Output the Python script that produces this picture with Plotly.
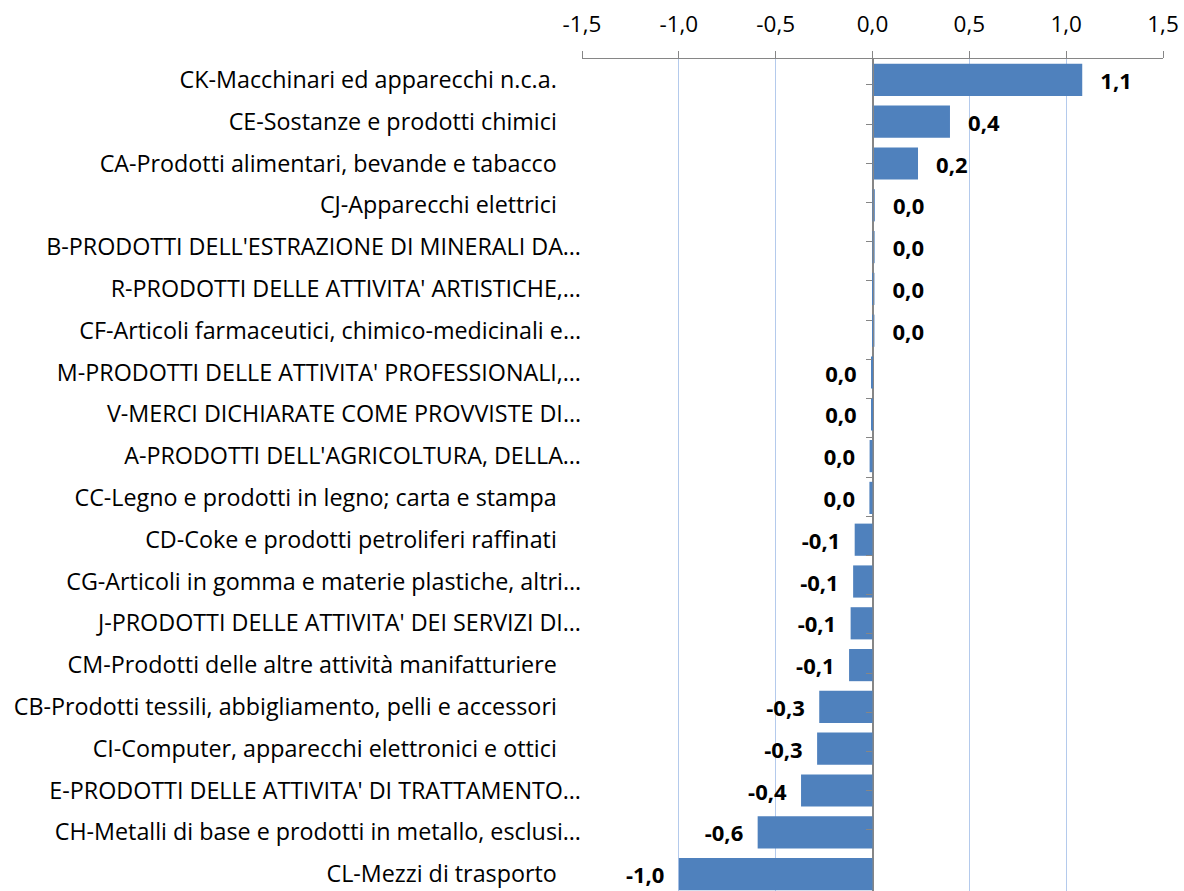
import plotly.graph_objects as go

categories = [
    "CK-Macchinari ed apparecchi n.c.a.",
    "CE-Sostanze e prodotti chimici",
    "CA-Prodotti alimentari, bevande e tabacco",
    "CJ-Apparecchi elettrici",
    "B-PRODOTTI DELL'ESTRAZIONE DI MINERALI DA…",
    "R-PRODOTTI DELLE ATTIVITA' ARTISTICHE,…",
    "CF-Articoli farmaceutici, chimico-medicinali e…",
    "M-PRODOTTI DELLE ATTIVITA' PROFESSIONALI,…",
    "V-MERCI DICHIARATE COME PROVVISTE DI…",
    "A-PRODOTTI DELL'AGRICOLTURA, DELLA…",
    "CC-Legno e prodotti in legno; carta e stampa",
    "CD-Coke e prodotti petroliferi raffinati",
    "CG-Articoli in gomma e materie plastiche, altri…",
    "J-PRODOTTI DELLE ATTIVITA' DEI SERVIZI DI…",
    "CM-Prodotti delle altre attività manifatturiere",
    "CB-Prodotti tessili, abbigliamento, pelli e accessori",
    "CI-Computer, apparecchi elettronici e ottici",
    "E-PRODOTTI DELLE ATTIVITA' DI TRATTAMENTO…",
    "CH-Metalli di base e prodotti in metallo, esclusi…",
    "CL-Mezzi di trasporto",
]
values = [1.083, 0.40, 0.235, 0.012, 0.011, 0.010, 0.010, -0.003, -0.003, -0.015,
          -0.016, -0.092, -0.100, -0.113, -0.121, -0.275, -0.286, -0.369, -0.593, -1.0]
x_tickvals = [-1.5, -1.0, -0.5, 0.0, 0.5, 1.0, 1.5]

FONT = "Open Sans"
BAR_COLOR = "#4F81BD"
GRID = "#B4CAEC"
AXIS = "#868686"


def fmt(v):
    s = f"{v:.1f}"
    if s == "-0.0":
        s = "0.0"
    return s.replace(".", ",")


texts = []
for v in values:
    if v >= 0:
        texts.append("\u00a0\u00a0\u2009<b>" + fmt(v) + "</b>")
    else:
        texts.append("<b>" + fmt(v) + "</b>\u00a0\u00a0")

ticktext = [c if c.endswith("…") else c + "\u00a0" * 4 for c in categories]
x_ticktext = [fmt(v) for v in x_tickvals]

fig = go.Figure()
fig.add_trace(go.Bar(
    x=values, y=categories, orientation="h",
    marker=dict(color=BAR_COLOR, line=dict(width=0)),
    text=texts, textposition="outside", cliponaxis=False,
    textfont=dict(family=FONT, size=22, color="#000000"),
    hoverinfo="skip", showlegend=False,
))
fig.add_trace(go.Scatter(
    x=values, y=categories, yaxis="y2", mode="markers",
    marker=dict(opacity=0), hoverinfo="skip", showlegend=False,
))

fig.update_layout(
    width=1184, height=895,
    margin=dict(l=582, r=21, t=59, b=0, autoexpand=False),
    paper_bgcolor="white", plot_bgcolor="white",
    bargap=0.23,
    font=dict(family=FONT, size=22, color="#000000"),
    xaxis=dict(
        side="top", range=[-1.5, 1.5], tickvals=x_tickvals, ticktext=x_ticktext,
        showgrid=True, gridcolor=GRID, gridwidth=1.3,
        zeroline=True, zerolinecolor=AXIS, zerolinewidth=1.3,
        showline=True, linecolor=AXIS, linewidth=1.3,
        ticks="outside", ticklen=7, tickcolor=AXIS, tickwidth=1.3,
        ticklabelstandoff=10,
        tickfont=dict(family=FONT, size=22.5, color="#000000"),
        fixedrange=True,
    ),
    yaxis=dict(
        type="category", categoryorder="array", categoryarray=categories,
        autorange="reversed", tickvals=categories, ticktext=ticktext,
        showgrid=False, showline=False, ticks="", ticklabelstandoff=0,
        tickfont=dict(family=FONT, size=23.3, color="#000000"),
        automargin=False, fixedrange=True,
    ),
    yaxis2=dict(
        type="category", categoryorder="array", categoryarray=categories,
        autorange="reversed", overlaying="y", anchor="free", position=0.5,
        side="left", showgrid=False, showline=True, linecolor=AXIS, linewidth=1.3,
        ticks="outside", tickson="boundaries", ticklen=6, tickcolor=AXIS,
        tickwidth=1.3, showticklabels=False, fixedrange=True,
    ),
)

fig.write_html(
    "out.html",
    config={"displayModeBar": False},
    post_script="document.body.style.margin='0';document.body.style.overflow='hidden';",
)
